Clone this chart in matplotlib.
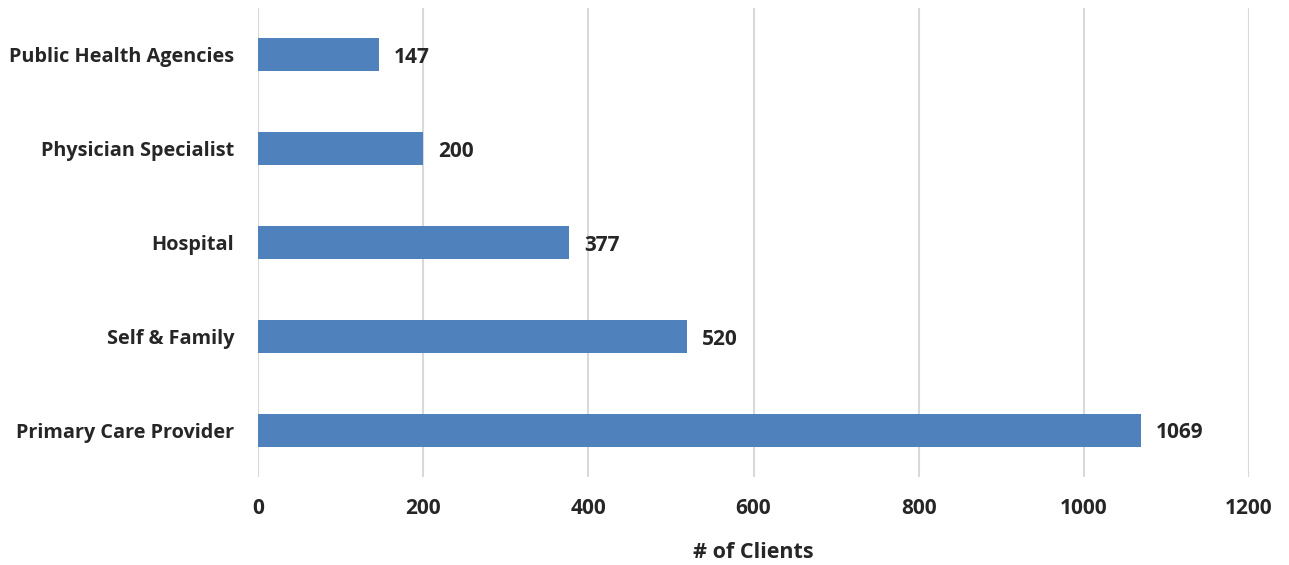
import matplotlib.pyplot as plt

categories = ['Primary Care Provider', 'Self & Family', 'Hospital',
              'Physician Specialist', 'Public Health Agencies']
clients = [1069, 520, 377, 200, 147]
xticks = [0, 200, 400, 600, 800, 1000, 1200]

plt.rcParams['font.family'] = ['Open Sans', 'DejaVu Sans']
plt.rcParams['font.weight'] = 'bold'
txt = '#262626'

fig = plt.figure(figsize=(12.89, 5.65), dpi=100)
ax = fig.add_axes([258 / 1289, 88 / 565, 991 / 1289, 469 / 565])

y = range(len(categories))
ax.barh(y, clients, height=0.35, color='#4F81BD', zorder=3)
for yi, v in zip(y, clients):
    ax.text(v + 18, yi - 0.03, str(v), va='center', ha='left', fontsize=15,
            fontweight='bold', color=txt)

ax.set_xlim(0, 1200)
ax.set_ylim(-0.5, len(categories) - 0.5)
ax.set_xticks(xticks)
ax.set_xticklabels([str(t) for t in xticks], fontsize=15, fontweight='bold', color=txt)
ax.set_yticks(list(y))
ax.set_yticklabels(categories, fontsize=14.3, fontweight='bold', color=txt)
ax.tick_params(axis='both', length=0)
ax.tick_params(axis='x', pad=15)
ax.tick_params(axis='y', pad=17)
ax.xaxis.grid(True, color='#D9D9D9', linewidth=1.5, zorder=0)
for s in ax.spines.values():
    s.set_visible(False)
ax.set_xlabel('# of Clients', fontsize=15.5, fontweight='bold', color=txt, labelpad=17)

plt.savefig('out.png', dpi=100)
